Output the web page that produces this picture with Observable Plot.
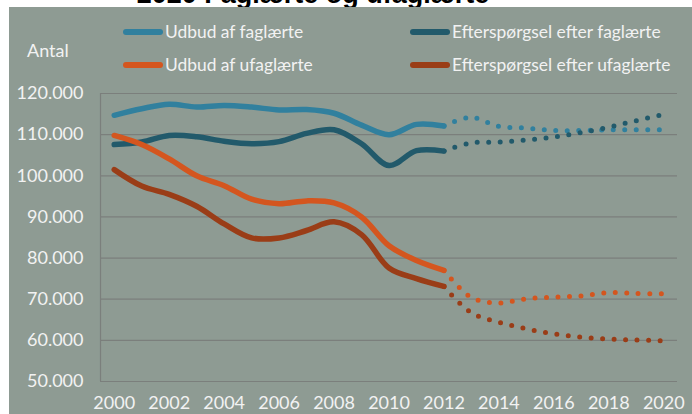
<!DOCTYPE html>
<html>
<head>
<meta charset="utf-8">
<script src="https://cdn.jsdelivr.net/npm/d3@7"></script>
<script src="https://cdn.jsdelivr.net/npm/@observablehq/plot@0.6"></script>
<style>
  body { margin: 0; background: #fff; }
  #wrap { position: relative; width: 692px; height: 414px; overflow: hidden; font-family: Lato, "Open Sans", sans-serif; }
  #title { position: absolute; left: 0; width: 626px; text-align: center; top: -21px; line-height: 32px; font: bold 27px "Liberation Sans", Arial, sans-serif; color: #000; white-space: nowrap; }
  #panel { position: absolute; left: 9px; top: 7px; width: 683px; height: 407px; background: #8e9b93; }
  #antal { position: absolute; left: 18px; top: 32px; color: #f2f2f2; font-size: 18px; }
  .leg { position: absolute; color: #f2f2f2; font-size: 17.4px; white-space: nowrap; display: flex; align-items: center; }
  .sw { width: 40px; height: 6px; border-radius: 3px; margin-right: 2px; }
  #chart { position: absolute; left: 0; top: 0; }
</style>
</head>
<body>
<div id="wrap">
  <div id="title">2020 Faglærte og ufaglærte</div>
  <div id="panel">
    <div id="antal">Antal</div>
    <div id="legend"></div>
    <div id="chart"></div>
  </div>
</div>
<script>
// Historical years and values
const years = [2000, 2001, 2002, 2003, 2004, 2005, 2006, 2007, 2008, 2009, 2010, 2011, 2012];
const udbudFaglaerte      = [114700, 116300, 117400, 116700, 117100, 116700, 116000, 116100, 115200, 112300, 110000, 112500, 112100];
const efterspFaglaerte    = [107600, 108200, 109800, 109500, 108400, 107800, 108300, 110300, 111200, 107800, 102500, 106100, 106000];
const udbudUfaglaerte     = [109800, 107600, 104100, 100000, 97600, 94300, 93200, 93900, 93400, 90000, 83000, 79400, 77000];
const efterspUfaglaerte   = [101500, 97500, 95500, 92600, 88300, 84900, 84900, 86700, 88800, 85700, 77600, 75000, 73100];

// Forecast years and values
const fYears = [2012, 2013, 2014, 2015, 2016, 2017, 2018, 2019, 2020];
const udbudFaglaerteF     = [112100, 114200, 112000, 111600, 111000, 111000, 111200, 111200, 111200];
const efterspFaglaerteF   = [106000, 108000, 108200, 108700, 109400, 110500, 111800, 113400, 114900];
const udbudUfaglaerteF    = [77000, 70400, 69100, 70100, 70500, 70800, 71600, 71400, 71300];
const efterspUfaglaerteF  = [73100, 66700, 64400, 62800, 61600, 60800, 60300, 60100, 59900];

const seriesNames = ["Udbud af faglærte", "Efterspørgsel efter faglærte", "Udbud af ufaglærte", "Efterspørgsel efter ufaglærte"];
const seriesColors = ["#31809e", "#225a6b", "#d4561f", "#9a3d17"];
const xTicks = [2000, 2002, 2004, 2006, 2008, 2010, 2012, 2014, 2016, 2018, 2020];
const yTicks = [50000, 60000, 70000, 80000, 90000, 100000, 110000, 120000];

const hist = [udbudFaglaerte, efterspFaglaerte, udbudUfaglaerte, efterspUfaglaerte];
const fc = [udbudFaglaerteF, efterspFaglaerteF, udbudUfaglaerteF, efterspUfaglaerteF];

const solid = [], dotted = [];
seriesNames.forEach((s, i) => {
  years.forEach((y, j) => solid.push({series: s, year: y, value: hist[i][j]}));
  fYears.forEach((y, j) => dotted.push({series: s, year: y, value: fc[i][j]}));
});

const fmt = d => d3.format(",")(d).replace(/,/g, ".");
const textColor = "#f2f2f2";
const gridColor = "#7b7f7c";

const plot = Plot.plot({
  width: 683,
  height: 407,
  marginLeft: 91,
  marginRight: 15,
  marginTop: 86,
  marginBottom: 33,
  style: { background: "transparent", fontFamily: "Lato, 'Open Sans', sans-serif", fontSize: "18px", color: textColor, overflow: "visible" },
  x: { domain: [1999.5, 2020.5], ticks: xTicks, tickFormat: d => String(d), tickSize: 0, tickPadding: 15, label: null },
  y: { domain: [50000, 120000], ticks: yTicks, tickFormat: fmt, tickSize: 0, tickPadding: 17, label: null },
  color: { domain: seriesNames, range: seriesColors },
  marks: [
    Plot.gridY(yTicks.slice(1), { stroke: gridColor, strokeOpacity: 1, strokeWidth: 1.2 }),
    Plot.ruleY([50000], { stroke: gridColor, strokeWidth: 1.2 }),
    Plot.ruleX([1999.5], { y1: 50000, y2: 120000, stroke: gridColor, strokeWidth: 1.2 }),
    Plot.axisX({ ticks: xTicks, tickFormat: d => String(d), tickSize: 0, tickPadding: 15, fill: textColor, fontSize: 18 }),
    Plot.axisY({ ticks: yTicks, tickFormat: fmt, tickSize: 0, tickPadding: 17, fill: textColor, fontSize: 18 }),
    Plot.line(solid, { x: "year", y: "value", z: "series", stroke: "series", strokeWidth: 5.5, strokeLinecap: "round", strokeLinejoin: "round", curve: "catmull-rom" }),
    Plot.line(dotted, { x: "year", y: "value", z: "series", stroke: "series", strokeWidth: 5, strokeLinecap: "round", strokeDasharray: "0 11.5", curve: "catmull-rom" })
  ]
});
document.getElementById("chart").appendChild(plot);

// Legend (HTML)
const legPos = [[114, 14], [401, 14], [114, 47], [401, 47]];
const leg = document.getElementById("legend");
seriesNames.forEach((s, i) => {
  const d = document.createElement("div");
  d.className = "leg";
  d.style.left = legPos[i][0] + "px";
  d.style.top = legPos[i][1] + "px";
  d.innerHTML = `<span class="sw" style="background:${seriesColors[i]}"></span><span>${s}</span>`;
  leg.appendChild(d);
});
</script>
</body>
</html>
